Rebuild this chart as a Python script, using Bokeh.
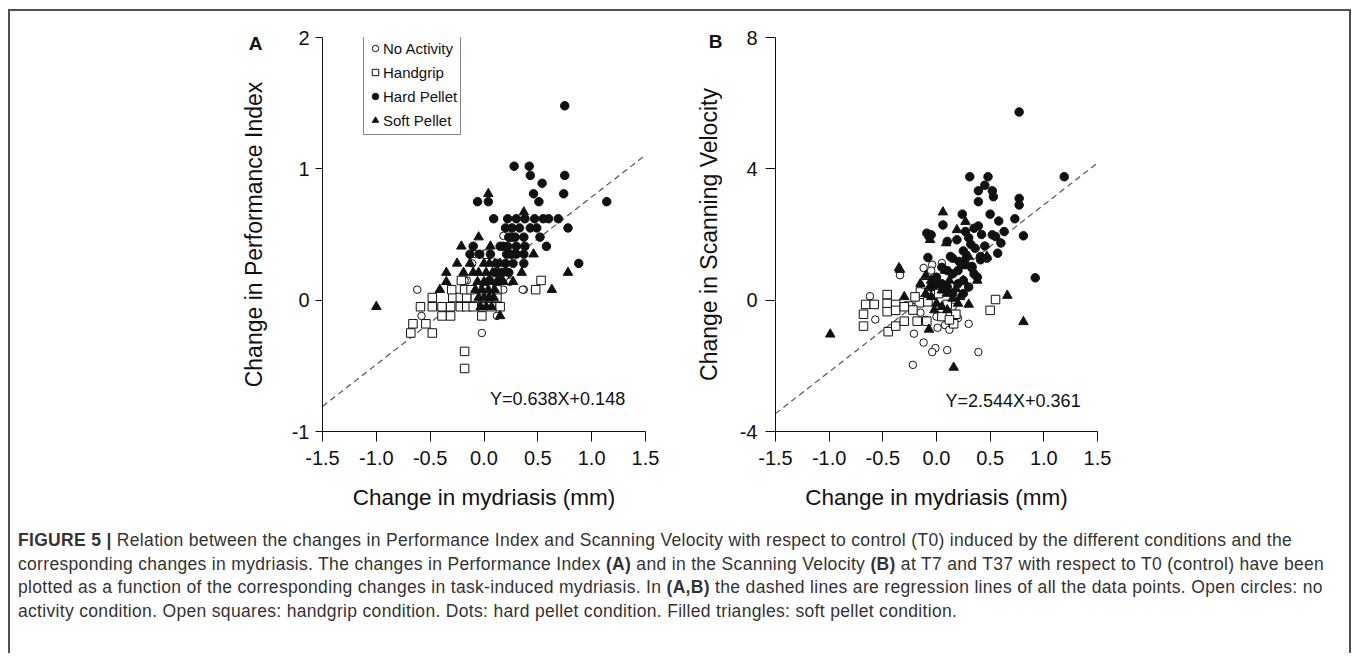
import math
from bokeh.plotting import figure
from bokeh.models import Range1d, FixedTicker, Label, Legend, LegendItem, Div, Spacer
from bokeh.layouts import row, column
from bokeh.embed import file_html
from bokeh.resources import INLINE

FONT = "Liberation Sans"

# ---------------- data ----------------
x_ticks = [-1.5, -1.0, -0.5, 0.0, 0.5, 1.0, 1.5]
x_tick_labels = ["-1.5", "-1.0", "-0.5", "0.0", "0.5", "1.0", "1.5"]
a_y_ticks = [-1, 0, 1, 2]
a_y_tick_labels = ["-1", "0", "1", "2"]
b_y_ticks = [-4, 0, 4, 8]
b_y_tick_labels = ["-4", "0", "4", "8"]

legend_names = ["No Activity", "Handgrip", "Hard Pellet", "Soft Pellet"]

# Panel A: change in Performance Index
a_none_x = [-0.62, -0.58, -0.02, 0.37, 0.25, 0.12, -0.16, 0.18, 0.18, -0.08, -0.05, -0.18, 0.24, 0.36, -0.11, 0.05]
a_none_y = [0.08, -0.12, -0.25, 0.08, 0.15, -0.12, 0.15, 0.08, 0.49, 0.35, 0.35, 0.15, 0.14, 0.08, 0.28, -0.05]

a_hand_x = [-0.48, -0.29, -0.22, -0.16, -0.08, -0.01, 0.07, 0.12, -0.59, -0.48, -0.39, -0.31, -0.22, -0.16, -0.10,
            -0.01, 0.07, 0.15, -0.66, -0.54, -0.68, -0.48, -0.18, -0.18, -0.39, -0.31, -0.02, 0.48, 0.53, -0.21,
            -0.30, -0.18, 0.03, -0.12, 0.00, 0.12]
a_hand_y = [0.02, 0.02, 0.02, 0.02, 0.02, 0.02, 0.02, 0.02, -0.05, -0.05, -0.05, -0.05, -0.05, -0.05, -0.05,
            -0.05, -0.05, -0.05, -0.18, -0.18, -0.25, -0.25, -0.39, -0.52, -0.12, -0.12, -0.12, 0.08, 0.15, 0.15,
            0.08, 0.08, 0.35, 0.08, 0.08, 0.08]

a_hard_x = [0.75, 0.28, 0.42, 0.43, 0.75, 0.54, -0.06, 0.04, 0.46, 0.74, 0.51, 1.14, 0.09, 0.22, 0.30, 0.38,
            0.47, 0.55, 0.60, 0.69, 0.78, 0.26, 0.33, 0.43, 0.49, 0.52, 0.58, 0.88, 0.37, 0.29, 0.23, 0.18,
            0.30, 0.38, -0.10, -0.04, 0.06, 0.21, 0.30, 0.37, -0.13, 0.37, 0.22, 0.26, 0.20, 0.15, 0.25,
            0.12, 0.20, 0.27, 0.10, 0.17, 0.23, 0.05, 0.14]
a_hard_y = [1.48, 1.02, 1.02, 0.95, 0.95, 0.89, 0.75, 0.75, 0.81, 0.81, 0.75, 0.75, 0.62, 0.62, 0.62, 0.62,
            0.62, 0.62, 0.62, 0.62, 0.55, 0.55, 0.55, 0.55, 0.55, 0.48, 0.41, 0.28, 0.48, 0.48, 0.48, 0.41,
            0.41, 0.41, 0.41, 0.35, 0.35, 0.35, 0.35, 0.28, 0.35, 0.35, 0.41, 0.48, 0.55, 0.41, 0.35,
            0.28, 0.28, 0.28, 0.21, 0.21, 0.21, 0.15, 0.15]

a_soft_x = [0.04, 0.37, -0.05, -0.21, 0.06, 0.46, -0.13, -0.35, -0.19, -0.10, 0.35, 0.78, -0.35, -0.41, 0.63,
            0.27, -1.00, 0.15, 0.00, 0.05, 0.10, 0.15, -0.05, 0.02, 0.08, 0.13, 0.20, -0.06, 0.00, 0.06, 0.12,
            0.18, -0.08, -0.02, 0.04, 0.10, -0.05, 0.00, 0.05, 0.09, -0.03, 0.02, 0.07, 0.28, -0.25]
a_soft_y = [0.81, 0.67, 0.48, 0.41, 0.41, 0.35, 0.28, 0.21, 0.21, 0.21, 0.21, 0.21, 0.14, 0.08, 0.08,
            0.14, -0.05, -0.12, 0.28, 0.28, 0.28, 0.28, 0.21, 0.21, 0.21, 0.21, 0.21, 0.14, 0.14, 0.14, 0.14,
            0.14, 0.08, 0.08, 0.08, 0.08, 0.02, 0.02, 0.02, 0.02, -0.05, -0.05, -0.05, 0.35, 0.28]

a_slope, a_intercept = 0.638, 0.148
a_equation = "Y=0.638X+0.148"
a_ylabel = "Change in Performance Index"

# Panel B: change in Scanning Velocity
b_none_x = [-0.62, -0.57, -0.21, -0.12, -0.01, -0.04, 0.10, 0.39, -0.22, 0.30, 0.01, 0.08, -0.34, -0.15, -0.12,
            -0.04, 0.05, -0.10, 0.00, 0.12, 0.20, -0.20, 0.15, -0.05]
b_none_y = [0.12, -0.59, -1.02, -1.29, -1.46, -1.58, -1.52, -1.58, -1.97, -0.72, -0.84, -0.76, 0.76, -0.38, 0.98,
            1.08, 1.13, -0.60, -0.50, -0.90, -0.55, 0.00, -0.20, 0.90]

b_hand_x = [0.55, 0.50, -0.68, -0.68, -0.66, -0.58, -0.46, -0.46, -0.38, -0.46, -0.38, -0.45, -0.38, -0.30, -0.26,
            -0.18, -0.09, -0.15, -0.16, -0.08, 0.10, 0.18, 0.16, -0.22, -0.30, -0.10, -0.05, 0.02, 0.05, -0.20, 0.12]
b_hand_y = [0.02, -0.31, -0.43, -0.79, -0.13, -0.13, 0.17, -0.10, -0.13, -0.35, -0.31, -0.96, -0.79, -0.64, -0.18,
            -0.64, -0.64, 0.25, -0.08, -0.05, -0.13, -0.43, -0.72, -0.30, -0.20, 0.50, 0.30, 0.20, -0.50, 0.10, -0.60]

b_hard_x = [0.77, 1.19, 0.31, 0.48, 0.45, 0.39, 0.52, 0.53, 0.39, 0.77, 0.77, 0.50, 0.24, 0.06, 0.73, 0.58, 0.63,
            0.81, -0.09, -0.05, -0.07, 0.27, 0.35, 0.39, 0.19, 0.10, 0.52, 0.55, 0.60, 0.36, 0.57, 0.41, -0.08,
            0.15, 0.21, 0.27, 0.33, 0.92, 0.38, 0.13, 0.41, 0.47, 0.33, 0.24, 0.30, 0.32, 0.25, 0.42, 0.45,
            0.05, 0.10, 0.15, 0.20, 0.25, 0.00, 0.05, 0.10, 0.20, 0.30, 0.15, 0.25, -0.05, 0.35, 0.28]
b_hard_y = [5.73, 3.76, 3.76, 3.76, 3.50, 3.33, 3.33, 3.15, 3.00, 3.10, 2.90, 2.62, 2.62, 2.29, 2.48, 2.41, 2.09,
            1.96, 2.04, 1.99, 1.94, 2.09, 2.19, 2.26, 1.84, 1.79, 1.99, 1.94, 1.74, 1.58, 1.43, 1.33, 1.30,
            1.28, 1.18, 1.08, 1.03, 0.68, 0.70, 1.33, 1.23, 1.28, 0.98, 1.08, 1.90, 1.70, 1.50, 2.00, 1.65,
            1.00, 0.90, 0.80, 0.90, 0.60, 0.70, 0.50, 0.40, 0.50, 0.40, 0.20, 0.20, 0.40, 0.80, 1.30]

b_soft_x = [0.06, 0.19, 0.27, -0.06, 0.09, 0.30, 0.47, -0.35, -0.99, 0.16, 0.81, 0.66, 0.30, -0.07, 0.38, -0.34,
            -0.30, -0.10, -0.05, 0.00, 0.05, 0.10, 0.15, -0.05, 0.00, 0.05, 0.10, 0.18, 0.22, 0.25, -0.10, 0.12,
            -0.15, 0.08, 0.20, -0.02]
b_soft_y = [2.68, 2.14, 2.39, 1.84, 1.74, 1.33, 1.33, 0.98, -1.04, -2.05, -0.66, 0.14, -0.13, -0.89, 0.60, 0.93,
            0.10, 0.75, 0.60, 0.45, 0.30, 0.20, 0.05, 0.10, -0.10, -0.20, -0.30, 0.35, 0.10, 0.60, 0.20, 0.60,
            0.50, 0.90, -0.10, -0.30]

b_slope, b_intercept = 2.544, 0.361
b_equation = "Y=2.544X+0.361"
b_ylabel = "Change in Scanning Velocity"

caption_lines = [
    "<b>FIGURE 5 |</b> Relation between the changes in Performance Index and Scanning Velocity with respect to control (T0) induced by the different conditions and the",
    "corresponding changes in mydriasis. The changes in Performance Index <b>(A)</b> and in the Scanning Velocity <b>(B)</b> at T7 and T37 with respect to T0 (control) have been",
    "plotted as a function of the corresponding changes in task-induced mydriasis. In <b>(A,B)</b> the dashed lines are regression lines of all the data points. Open circles: no",
    "activity condition. Open squares: handgrip condition. Dots: hard pellet condition. Filled triangles: soft pellet condition.",
]

FRAME = "#505050"
INK = "#111111"
ROW_H = 510
TOP_H = 66          # height of the small canvas holding the panel letter


def text_canvas(width, height, **label_kw):
    f = figure(width=width, height=height, x_range=Range1d(0, width), y_range=Range1d(0, height),
               output_backend="svg", toolbar_location=None, x_axis_location=None,
               y_axis_location=None, min_border=0, margin=0)
    f.outline_line_color = None
    f.grid.visible = False
    f.add_layout(Label(text_font=FONT, text_color=INK, text_align="center",
                       text_baseline="middle", **label_kw))
    return f


def gutter(width, letter, letter_x, letter_y_top, ylabel, label_x, label_y_top):
    """Panel letter (own canvas) above the rotated y-axis title (own canvas); positions from row top."""
    top = text_canvas(width, TOP_H, x=letter_x, y=TOP_H - letter_y_top, text=letter,
                      text_font_size="19px", text_font_style="bold")
    low_h = ROW_H - TOP_H
    low = text_canvas(width, low_h, x=label_x, y=low_h - (label_y_top - TOP_H), text=ylabel,
                      angle=math.pi / 2, text_font_size="23px")
    return column(top, low, margin=0, spacing=0)


def make_panel(width, mb_left, mb_right, mb_top, frame_h, y_lo, y_hi, y_ticks, y_labels, ytick_len,
               series, slope, icept, eq_text, eq_x, eq_y, yticklabel_standoff, legend_loc=None):
    p = figure(width=width, height=ROW_H, x_range=Range1d(-1.5, 1.5), y_range=Range1d(y_lo, y_hi),
               output_backend="svg", toolbar_location=None,
               min_border_left=mb_left, min_border_right=mb_right,
               min_border_top=mb_top, min_border_bottom=ROW_H - mb_top - frame_h, margin=0)
    p.outline_line_color = None
    p.grid.visible = False

    p.xaxis.ticker = FixedTicker(ticks=x_ticks)
    p.xaxis.major_label_overrides = dict(zip(x_ticks, x_tick_labels))
    p.yaxis.ticker = FixedTicker(ticks=y_ticks)
    p.yaxis.major_label_overrides = dict(zip(y_ticks, y_labels))
    for ax in (p.xaxis[0], p.yaxis[0]):
        ax.axis_line_color = INK
        ax.axis_line_width = 1
        ax.major_tick_line_color = INK
        ax.minor_tick_line_color = None
        ax.major_tick_in = 0
        ax.major_label_text_font = FONT
        ax.major_label_text_font_size = "20px"
        ax.major_label_text_color = INK
        ax.axis_label_text_font = FONT
        ax.axis_label_text_font_size = "22.5px"
        ax.axis_label_text_font_style = "normal"
        ax.axis_label_text_color = INK
    p.xaxis.major_tick_out = 10
    p.yaxis.major_tick_out = ytick_len
    p.xaxis.major_label_standoff = 9
    p.yaxis.major_label_standoff = yticklabel_standoff
    p.xaxis.axis_label = "Change in mydriasis (mm)"
    p.xaxis.axis_label_standoff = 17

    rx = [x_ticks[0], x_ticks[-1]]
    ry = [slope * v + icept for v in rx]
    p.line(rx, ry, line_color="#555555", line_width=1.2, line_dash="6 4")

    (nx, ny), (hx, hy), (dx, dy), (sx, sy) = series
    r_none = p.scatter(nx, ny, marker="circle", size=7.5, fill_color="white", line_color=INK, line_width=1)
    r_hand = p.scatter(hx, hy, marker="square", size=8.5, fill_color="white", line_color=INK, line_width=1)
    r_hard = p.scatter(dx, dy, marker="circle", size=8.5, fill_color=INK, line_color=INK, line_width=1)
    r_soft = p.scatter(sx, sy, marker="triangle", size=9.5, fill_color=INK, line_color=INK, line_width=1)

    p.add_layout(Label(x=eq_x, y=eq_y, text=eq_text, text_font=FONT, text_font_size="18px",
                       text_color=INK, text_align="left", text_baseline="middle"))

    if legend_loc is not None:
        items = [LegendItem(label=legend_names[0], renderers=[r_none]),
                 LegendItem(label=legend_names[1], renderers=[r_hand]),
                 LegendItem(label=legend_names[2], renderers=[r_hard]),
                 LegendItem(label=legend_names[3], renderers=[r_soft])]
        lg = Legend(items=items, location=legend_loc, margin=0, padding=3, spacing=2,
                    glyph_width=16, glyph_height=22, label_standoff=0,
                    label_text_font=FONT, label_text_font_size="15px", label_text_color=INK,
                    border_line_color=INK, border_line_width=1, background_fill_alpha=1.0)
        p.add_layout(lg)
    return p


gA = gutter(262, "A", 245, 31.5, a_ylabel, 243, 223)
pA = make_panel(408, 50, 35, 24, 396, -1, 2, a_y_ticks, a_y_tick_labels, 7,
                [(a_none_x, a_none_y), (a_hand_x, a_hand_y), (a_hard_x, a_hard_y), (a_soft_x, a_soft_y)],
                a_slope, a_intercept, a_equation, 0.056, -0.75, 6, legend_loc=(41, 296))
gB = gutter(42, "B", 35, 30, b_ylabel, 28, 223)
pB = make_panel(627, 53, 252, 26, 394, -4, 8, b_y_ticks, b_y_tick_labels, 10,
                [(b_none_x, b_none_y), (b_hand_x, b_hand_y), (b_hard_x, b_hard_y), (b_soft_x, b_soft_y)],
                b_slope, b_intercept, b_equation, 0.084, -3.06, 8)


def vline(h):
    return Spacer(width=2, height=h, margin=0, styles={"background-color": FRAME})


def gap(w, h):
    return Spacer(width=w, height=h, margin=0)


CAP_H = 132
cap_html = ('<div style="box-sizing:border-box;width:1339px;height:%dpx;'
            'padding:8px 0 0 8px;font-family:\'Liberation Sans\',Arial,sans-serif;font-size:17.5px;'
            'letter-spacing:0.32px;line-height:23.7px;color:#333333;white-space:nowrap;">' % CAP_H
            + "<br>".join(caption_lines) + "</div>")
caption = Div(text=cap_html, width=1339, height=CAP_H, margin=0)

top_row = row(gap(8, 2), Spacer(width=1343, height=2, margin=0, styles={"background-color": FRAME}),
              margin=0, spacing=0)
plot_row = row(gap(8, ROW_H), vline(ROW_H), gA, pA, gB, pB, vline(ROW_H), margin=0, spacing=0)
cap_row = row(gap(8, CAP_H), vline(CAP_H), caption, vline(CAP_H), margin=0, spacing=0)

layout = column(gap(1351, 9), top_row, plot_row, cap_row, margin=0, spacing=0)

open("out.html", "w").write(file_html(layout, INLINE))
